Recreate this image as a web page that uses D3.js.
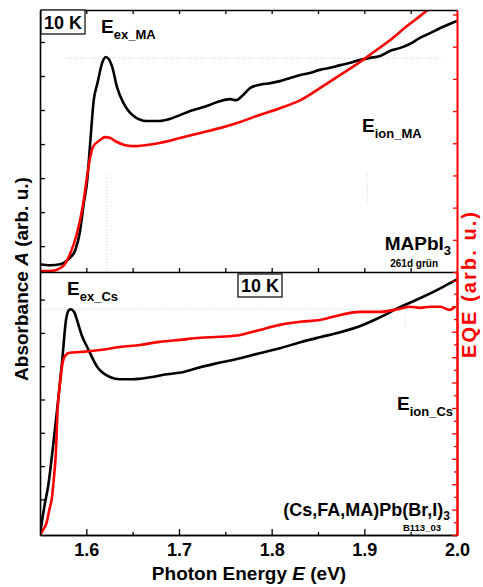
<!DOCTYPE html>
<html><head><meta charset="utf-8">
<script src="https://cdn.jsdelivr.net/npm/d3@7"></script>
<style>
body{margin:0;background:#fff}
svg{display:block;font-family:"Liberation Sans",Arial,Helvetica,sans-serif;font-weight:bold}
</style>
</head><body>
<svg id="c" width="483" height="587"></svg>
<script>
// ---------- data ----------
const xTickValues = [1.6, 1.7, 1.8, 1.9, 2.0];
const xMinorValues = [1.65, 1.75, 1.85, 1.95];
const xTopValues = [1.6, 1.65, 1.7, 1.75, 1.8, 1.85, 1.9, 1.95];
const absTickValues = [1, 2, 3, 4, 5, 6, 7];
const eqeTopTicks = [0, 1, 2, 3, 4, 5, 6, 7, 8];
const eqeBotTicks = [0, 1, 2, 3, 4, 5, 6, 7, 8, 9, 10];
const eqeBotMinor = [0.5, 1.5, 2.5, 3.5, 4.5, 5.5, 6.5, 7.5, 8.5, 9.5];

// MAPbI3 absorbance (top, black)
const maAbsE = [1.550,1.561,1.572,1.577,1.582,1.588,1.593,1.597,1.601,1.604,1.608,1.612,1.617,1.621,1.628,1.633,1.640,1.650,1.665,1.679,1.690,1.701,1.712,1.723,1.733,1.744,1.755,1.762,1.768,1.777,1.787,1.798,1.809,1.820,1.831,1.841,1.852,1.863,1.874,1.884,1.895,1.906,1.917,1.928,1.938,1.949,1.960,1.971,1.982,1.992,2.000];
const maAbs = [0.47,0.44,0.47,0.53,0.65,0.88,1.41,2.21,2.94,3.97,5.29,5.79,6.38,6.56,6.26,5.68,5.21,4.85,4.68,4.68,4.74,4.85,4.97,5.06,5.15,5.26,5.32,5.29,5.41,5.65,5.74,5.79,5.85,5.94,6.03,6.09,6.18,6.24,6.32,6.38,6.47,6.53,6.59,6.74,6.82,6.94,7.12,7.26,7.41,7.53,7.62];

// MAPbI3 EQE (top, red)
const maEqeE = [1.550,1.561,1.572,1.577,1.582,1.590,1.596,1.601,1.604,1.607,1.615,1.620,1.626,1.631,1.642,1.653,1.663,1.679,1.701,1.723,1.744,1.766,1.787,1.809,1.831,1.852,1.874,1.895,1.909,1.928,1.946,1.960,1.973];
const maEqe = [0.03,0.03,0.12,0.25,0.53,1.21,2.02,3.01,3.54,3.88,4.10,4.19,4.16,4.07,3.94,3.91,3.94,4.01,4.16,4.32,4.47,4.66,4.88,5.09,5.34,5.71,6.12,6.52,6.81,7.21,7.64,7.95,8.25];

// (Cs,FA,MA)Pb(Br,I)3 absorbance (bottom, black)
const csAbsE = [1.550,1.552,1.555,1.559,1.563,1.566,1.569,1.574,1.578,1.581,1.583,1.587,1.590,1.595,1.601,1.612,1.626,1.636,1.650,1.669,1.687,1.704,1.723,1.741,1.766,1.787,1.809,1.831,1.852,1.874,1.895,1.917,1.938,1.960,1.982,1.996,2.000];
const csAbs = [-0.07,0.32,0.83,1.43,2.33,3.08,3.83,5.18,6.38,6.68,6.71,6.62,6.38,5.93,5.57,4.97,4.67,4.61,4.61,4.67,4.76,4.82,4.97,5.09,5.24,5.39,5.54,5.72,5.87,6.02,6.20,6.47,6.77,7.04,7.34,7.55,7.61];

// (Cs,FA,MA)Pb(Br,I)3 EQE (bottom, red)
const csEqeE = [1.550,1.554,1.557,1.560,1.563,1.565,1.567,1.569,1.572,1.574,1.577,1.582,1.593,1.604,1.615,1.636,1.658,1.679,1.701,1.723,1.744,1.766,1.787,1.809,1.831,1.852,1.874,1.895,1.917,1.938,1.949,1.960,1.971,1.982,1.992,1.998];
const csEqe = [0.00,0.24,0.47,0.98,1.50,2.24,3.15,4.92,6.10,6.69,7.05,7.17,7.20,7.24,7.28,7.40,7.48,7.60,7.68,7.76,7.80,7.87,8.07,8.27,8.39,8.46,8.66,8.78,8.78,8.90,8.98,8.94,8.98,8.98,8.86,8.98];

// faint dotted guide lines
const maGuideLevel = 6.53, maGuideRange = [1.577, 1.982];
const maGuideVerticals = [1.622, 1.903];
const maGuideVertRanges = [[0.24, 3.15], [2.26, 3.15]];
const csGuideLevel = 6.71, csGuideRange = [1.553, 1.946];
const csGuideVerticals = [1.944];
const csGuideVertRanges = [[6.14, 6.59]];

// ---------- layout ----------
const L = 40, R = 457, T1 = 10, B1 = 272, T2 = 272, B2 = 535;
const RED = "#ff0000";
const svg = d3.select("#c");

const x = d3.scaleLinear().domain([1.55, 2.0]).range([L, R]);
const yA1 = d3.scaleLinear().domain([0.24, 7.94]).range([B1, T1]);
const yE1 = d3.scaleLinear().domain([0, 8.14]).range([B1, T1]);
const yA2 = d3.scaleLinear().domain([-0.07, 7.83]).range([B2, T2]);
const yE2 = d3.scaleLinear().domain([0, 10.35]).range([B2, T2]);

const defs = svg.append("defs");
defs.append("clipPath").attr("id", "clipTop").append("rect").attr("x", L).attr("y", T1).attr("width", R - L).attr("height", B1 - T1);
defs.append("clipPath").attr("id", "clipBot").append("rect").attr("x", L).attr("y", T2).attr("width", R - L).attr("height", B2 - T2);

function guides(clip, ys, level, range, verts, vranges) {
  const g = svg.append("g").attr("clip-path", clip).attr("stroke", "#cccccc").attr("stroke-width", 1).attr("stroke-dasharray", "1,2");
  g.append("line").attr("x1", x(range[0])).attr("x2", x(range[1])).attr("y1", ys(level)).attr("y2", ys(level));
  verts.forEach((v, i) => {
    g.append("line").attr("x1", x(v)).attr("x2", x(v)).attr("y1", ys(vranges[i][0])).attr("y2", ys(vranges[i][1]));
  });
}
guides("url(#clipTop)", yA1, maGuideLevel, maGuideRange, maGuideVerticals, maGuideVertRanges);
guides("url(#clipBot)", yA2, csGuideLevel, csGuideRange, csGuideVerticals, csGuideVertRanges);

function curve(E, V, ys, color, clip) {
  const line = d3.line().x(d => x(d[0])).y(d => ys(d[1])).curve(d3.curveMonotoneX);
  svg.append("path").datum(E.map((e, i) => [e, V[i]]))
    .attr("clip-path", clip).attr("fill", "none").attr("stroke", color)
    .attr("stroke-width", 2.6).attr("stroke-linejoin", "round").attr("d", line);
}
curve(maAbsE, maAbs, yA1, "#000", "url(#clipTop)");
curve(maEqeE, maEqe, yE1, RED, "url(#clipTop)");
curve(csAbsE, csAbs, yA2, "#000", "url(#clipBot)");
curve(csEqeE, csEqe, yE2, RED, "url(#clipBot)");

function styleAxis(g, color, w) {
  g.selectAll(".domain").attr("stroke", color).attr("stroke-width", w);
  g.selectAll(".tick line").attr("stroke", color).attr("stroke-width", 1.3);
}
const gxb = svg.append("g").attr("transform", `translate(0,${B2})`)
  .call(d3.axisBottom(x).tickValues(xTickValues).tickSize(-6).tickSizeOuter(0).tickPadding(8).tickFormat(d3.format(".1f")));
styleAxis(gxb, "#000", 1.6);
gxb.selectAll("text").attr("font-size", 18).attr("font-weight", "bold").attr("fill", "#000").attr("font-family", '"Liberation Sans",Arial,sans-serif');
const gxbm = svg.append("g").attr("transform", `translate(0,${B2})`)
  .call(d3.axisBottom(x).tickValues(xMinorValues).tickSize(-3).tickSizeOuter(0).tickFormat(""));
styleAxis(gxbm, "#000", 1.6);
const gxm = svg.append("g").attr("transform", `translate(0,${B1})`)
  .call(d3.axisBottom(x).tickValues(xTopValues).tickSize(-4).tickSizeOuter(0).tickFormat(""));
styleAxis(gxm, "#000", 1.6);
const gxt = svg.append("g").attr("transform", `translate(0,${T1})`)
  .call(d3.axisTop(x).tickValues(xTopValues).tickSize(-4).tickSizeOuter(0).tickFormat(""));
styleAxis(gxt, "#000", 1.6);
const gyl1 = svg.append("g").attr("transform", `translate(${L},0)`)
  .call(d3.axisLeft(yA1).tickValues(absTickValues).tickSize(-5).tickSizeOuter(0).tickFormat(""));
styleAxis(gyl1, "#000", 1.6);
const gyl2 = svg.append("g").attr("transform", `translate(${L},0)`)
  .call(d3.axisLeft(yA2).tickValues(absTickValues).tickSize(-5).tickSizeOuter(0).tickFormat(""));
styleAxis(gyl2, "#000", 1.6);
const gyr1 = svg.append("g").attr("transform", `translate(${R},0)`)
  .call(d3.axisRight(yE1).tickValues(eqeTopTicks).tickSize(-4).tickSizeOuter(0).tickFormat(""));
styleAxis(gyr1, RED, 2);
const gyr2 = svg.append("g").attr("transform", `translate(${R},0)`)
  .call(d3.axisRight(yE2).tickValues(eqeBotTicks).tickSize(-5).tickSizeOuter(0).tickFormat(""));
styleAxis(gyr2, RED, 2);
const gyr2m = svg.append("g").attr("transform", `translate(${R},0)`)
  .call(d3.axisRight(yE2).tickValues(eqeBotMinor).tickSize(-3).tickSizeOuter(0).tickFormat(""));
styleAxis(gyr2m, RED, 2);

function boxLabel(bx, by, bw, bh, txt) {
  svg.append("rect").attr("x", bx).attr("y", by).attr("width", bw).attr("height", bh)
    .attr("fill", "#fff").attr("stroke", "#000").attr("stroke-width", 1.2);
  svg.append("text").attr("x", bx + bw / 2).attr("y", by + bh - 5).attr("text-anchor", "middle")
    .attr("font-size", 18).text(txt);
}
boxLabel(41, 10, 44, 24, "10 K");
boxLabel(238, 274, 44, 23, "10 K");

function eLabel(xp, yp, sub) {
  const t = svg.append("text").attr("x", xp).attr("y", yp).attr("font-size", 19);
  t.append("tspan").text("E");
  t.append("tspan").attr("font-size", 13).attr("dy", 6).text(sub);
}
eLabel(101, 33, "ex_MA");
eLabel(362, 132, "ion_MA");
eLabel(67, 295, "ex_Cs");
eLabel(397, 410, "ion_Cs");

const t1 = svg.append("text").attr("x", 451).attr("y", 250).attr("text-anchor", "end").attr("font-size", 19);
t1.append("tspan").text("MAPbI");
t1.append("tspan").attr("font-size", 13).attr("dy", 5).text("3");
svg.append("text").attr("x", 438).attr("y", 267).attr("text-anchor", "end").attr("font-size", 10).text("261d grün");

const t2 = svg.append("text").attr("x", 450).attr("y", 516).attr("text-anchor", "end").attr("font-size", 18);
t2.append("tspan").text("(Cs,FA,MA)Pb(Br,I)");
t2.append("tspan").attr("font-size", 12).attr("dy", 4).text("3");
svg.append("text").attr("x", 441).attr("y", 531).attr("text-anchor", "end").attr("font-size", 9.5).text("B113_03");

const xt = svg.append("text").attr("x", 249).attr("y", 580).attr("text-anchor", "middle").attr("font-size", 19);
xt.append("tspan").text("Photon Energy ");
xt.append("tspan").attr("font-style", "italic").text("E");
xt.append("tspan").text(" (eV)");

const yt = svg.append("text").attr("transform", "translate(28,279) rotate(-90)").attr("text-anchor", "middle").attr("font-size", 19);
yt.append("tspan").text("Absorbance ");
yt.append("tspan").attr("font-style", "italic").text("A");
yt.append("tspan").text(" (arb. u.)");

svg.append("text").attr("transform", "translate(476,285) rotate(-90)").attr("text-anchor", "middle")
  .attr("font-size", 20).attr("fill", RED)
  .attr("textLength", 146).attr("lengthAdjust", "spacing").text("EQE (arb. u.)");
</script>
</body></html>
